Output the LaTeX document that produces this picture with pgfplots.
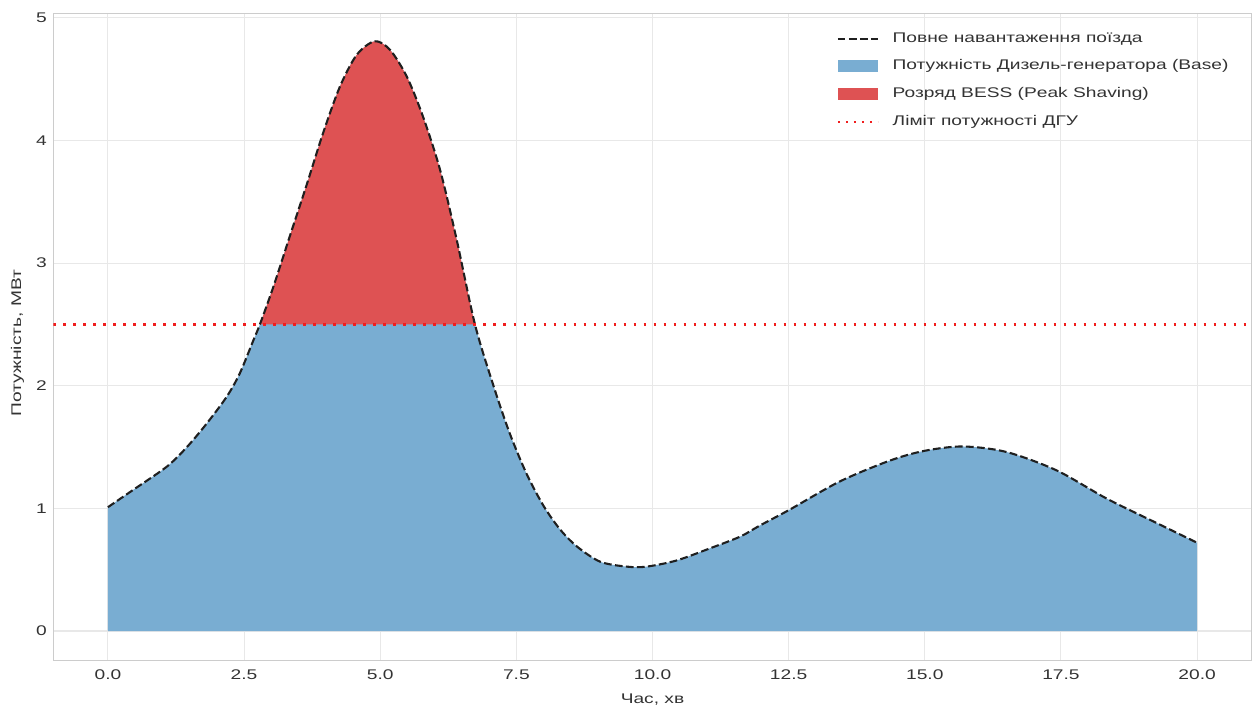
\documentclass[border=0pt]{standalone}
\usepackage{fontspec}
\setmainfont{Liberation Sans}[FakeStretch=1.37]
\usepackage{pgfplots}
\usepackage{pgfplotstable}
\pgfplotsset{compat=1.18}
\usepgfplotslibrary{fillbetween}
\definecolor{baseblue}{HTML}{79ADD2}
\definecolor{bessred}{HTML}{DE5253}
\definecolor{gridc}{HTML}{E8E8E8}
\definecolor{framec}{HTML}{CCCCCC}
\definecolor{txt}{HTML}{333333}
\definecolor{limred}{HTML}{F01E1E}

\pgfplotstableread{
t p
0.00 1.01
0.46 1.15
1.08 1.34
1.45 1.50
1.81 1.69
2.18 1.91
2.42 2.10
2.67 2.37
2.79 2.50
3.04 2.81
3.34 3.22
3.65 3.64
3.95 4.06
4.26 4.44
4.57 4.70
4.90 4.81
5.18 4.74
5.49 4.52
5.79 4.19
6.10 3.76
6.40 3.20
6.74 2.50
7.08 2.00
7.38 1.61
7.69 1.28
8.00 1.02
8.30 0.83
8.61 0.69
9.04 0.565
9.53 0.525
9.89 0.525
10.44 0.575
11.06 0.675
11.61 0.77
11.97 0.86
12.52 0.99
13.44 1.22
14.36 1.39
15.00 1.47
15.70 1.505
16.50 1.46
17.42 1.31
18.34 1.08
19.26 0.88
20.00 0.72
}\loadtable

\begin{document}
\begin{tikzpicture}
\begin{axis}[name=ax, scale only axis, width=898.5pt, height=485.5pt,
  xmin=-1, xmax=21, ymin=-0.24, ymax=5.04,
  xtick={0,2.5,...,20}, ytick={0,1,...,5},
  xticklabel style={/pgf/number format/fixed, /pgf/number format/fixed zerofill, /pgf/number format/precision=1, yshift=-3.5pt},
  yticklabel style={xshift=-1.5pt},
  /pgf/number format/assume math mode=true,
  major tick length=0pt, tick style={draw=none},
  grid=major, grid style={gridc, line width=0.8pt},
  axis line style={framec, line width=0.8pt},
  ticklabel style={font=\fontsize{10.5}{12}\selectfont, text=txt},
  label style={font=\fontsize{10.5}{12}\selectfont, text=txt},
  xlabel={Час, хв}, ylabel={Потужність, МВт},
  xlabel style={at={(axis description cs:0.5,-0.0605)}, anchor=center},
  ylabel style={at={(axis description cs:-0.0300,0.49)}, anchor=center},
  legend cell align=left,
  legend style={at={(axis description cs:1,1)}, anchor=north east, xshift=-12pt, yshift=-10pt,
    draw=none, fill=none, font=\fontsize{10.5}{12}\selectfont, text=txt,
    row sep=6.8pt,
    nodes={text height=7.6pt, text depth=2.4pt},
    /tikz/every odd column/.append style={column sep=8.3pt}},
]
\addplot[draw=none, name path=zero, forget plot] coordinates {(0,0) (20,0)};
\addplot[draw=none, name path=limitp, forget plot] coordinates {(0,2.5) (20,2.5)};
\addplot[draw=none, name path=load, smooth, forget plot] table[x=t, y=p] {\loadtable};
\addplot[fill=baseblue, draw=none, forget plot] fill between[of=load and zero];
\addplot[fill=bessred, draw=none, forget plot] fill between[of=load and limitp, soft clip={domain=2.79:6.74}];
\addplot[black!88, line width=1.56pt, dash pattern=on 5.8pt off 2.5pt, smooth, forget plot] table[x=t, y=p] {\loadtable};
\addplot[limred, line width=2pt, dash pattern=on 2pt off 5.5pt, forget plot] coordinates {(-1,2.5) (21,2.5)};

\addlegendimage{black!88, line width=1.56pt, dash pattern=on 5.8pt off 2.5pt, legend image code/.code={\draw (0pt,0pt) -- (30pt,0pt);}}
\addlegendentry{Повне навантаження поїзда}
\addlegendimage{fill=baseblue, draw=none, legend image code/.code={\fill (0pt,-4.5pt) rectangle (30pt,4.5pt);}}
\addlegendentry{Потужність Дизель-генератора (Base)}
\addlegendimage{fill=bessred, draw=none, legend image code/.code={\fill (0pt,-4.5pt) rectangle (30pt,4.5pt);}}
\addlegendentry{Розряд BESS (Peak Shaving)}
\addlegendimage{limred, line width=1.8pt, dash pattern=on 1.8pt off 4.2pt, legend image code/.code={\draw (0pt,0pt) -- (30pt,0pt);}}
\addlegendentry{Ліміт потужності ДГУ}
\end{axis}
\pgfresetboundingbox
\path ([shift={(-40.1pt,-39.4pt)}]ax.south west) rectangle ([shift={(5.6pt,9.8pt)}]ax.north east);
\end{tikzpicture}
\end{document}
